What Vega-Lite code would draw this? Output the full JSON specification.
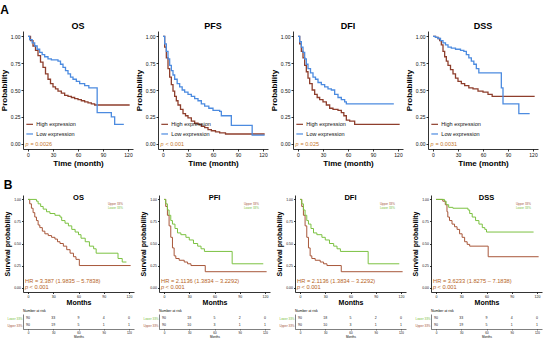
{
 "$schema": "https://vega.github.io/schema/vega-lite/v6.json",
 "padding": {"left": 0, "top": 4, "right": 2, "bottom": 2},
 "background": "white",
 "config": {
  "font": "Liberation Sans",
  "view": {"stroke": null},
  "axis": {"grid": false, "labelOverlap": false, "domainColor": "#000", "tickColor": "#000", "labelColor": "#111", "titleColor": "#000", "labelFontSize": 5, "titleFontSize": 8, "titleFontWeight": "bold", "tickSize": 2, "labelPadding": 1, "titlePadding": 2, "domainWidth": 0.8, "tickWidth": 0.8},
  "title": {"color": "#000"}
 },
 "datasets": {
  "km": [
   {"p":"AOS","g":"High","t":0,"s":1},{"p":"AOS","g":"High","t":3,"s":0.96},{"p":"AOS","g":"High","t":6,"s":0.91},{"p":"AOS","g":"High","t":9,"s":0.87},{"p":"AOS","g":"High","t":12,"s":0.82},{"p":"AOS","g":"High","t":15,"s":0.76},{"p":"AOS","g":"High","t":18,"s":0.71},{"p":"AOS","g":"High","t":21,"s":0.65},{"p":"AOS","g":"High","t":24,"s":0.6},{"p":"AOS","g":"High","t":27,"s":0.56},{"p":"AOS","g":"High","t":30,"s":0.53},{"p":"AOS","g":"High","t":33,"s":0.51},{"p":"AOS","g":"High","t":36,"s":0.49},{"p":"AOS","g":"High","t":40,"s":0.47},{"p":"AOS","g":"High","t":44,"s":0.45},{"p":"AOS","g":"High","t":48,"s":0.44},{"p":"AOS","g":"High","t":52,"s":0.43},{"p":"AOS","g":"High","t":56,"s":0.42},{"p":"AOS","g":"High","t":60,"s":0.41},{"p":"AOS","g":"High","t":64,"s":0.4},{"p":"AOS","g":"High","t":68,"s":0.39},{"p":"AOS","g":"High","t":72,"s":0.38},{"p":"AOS","g":"High","t":76,"s":0.37},{"p":"AOS","g":"High","t":80,"s":0.36},{"p":"AOS","g":"High","t":122,"s":0.36},
   {"p":"AOS","g":"Low","t":0,"s":1},{"p":"AOS","g":"Low","t":2,"s":0.97},{"p":"AOS","g":"Low","t":5,"s":0.94},{"p":"AOS","g":"Low","t":8,"s":0.91},{"p":"AOS","g":"Low","t":11,"s":0.88},{"p":"AOS","g":"Low","t":14,"s":0.85},{"p":"AOS","g":"Low","t":17,"s":0.83},{"p":"AOS","g":"Low","t":20,"s":0.81},{"p":"AOS","g":"Low","t":24,"s":0.79},{"p":"AOS","g":"Low","t":28,"s":0.78},{"p":"AOS","g":"Low","t":36,"s":0.77},{"p":"AOS","g":"Low","t":39,"s":0.74},{"p":"AOS","g":"Low","t":42,"s":0.71},{"p":"AOS","g":"Low","t":45,"s":0.68},{"p":"AOS","g":"Low","t":48,"s":0.65},{"p":"AOS","g":"Low","t":51,"s":0.62},{"p":"AOS","g":"Low","t":54,"s":0.6},{"p":"AOS","g":"Low","t":58,"s":0.58},{"p":"AOS","g":"Low","t":62,"s":0.56},{"p":"AOS","g":"Low","t":68,"s":0.54},{"p":"AOS","g":"Low","t":73,"s":0.52},{"p":"AOS","g":"Low","t":83,"s":0.29},{"p":"AOS","g":"Low","t":100,"s":0.25},{"p":"AOS","g":"Low","t":104,"s":0.18},{"p":"AOS","g":"Low","t":115,"s":0.18},
   {"p":"APFS","g":"High","t":0,"s":1},{"p":"APFS","g":"High","t":2,"s":0.9},{"p":"APFS","g":"High","t":4,"s":0.8},{"p":"APFS","g":"High","t":6,"s":0.7},{"p":"APFS","g":"High","t":8,"s":0.62},{"p":"APFS","g":"High","t":10,"s":0.55},{"p":"APFS","g":"High","t":12,"s":0.49},{"p":"APFS","g":"High","t":14,"s":0.44},{"p":"APFS","g":"High","t":16,"s":0.4},{"p":"APFS","g":"High","t":18,"s":0.36},{"p":"APFS","g":"High","t":21,"s":0.32},{"p":"APFS","g":"High","t":24,"s":0.28},{"p":"APFS","g":"High","t":27,"s":0.26},{"p":"APFS","g":"High","t":30,"s":0.24},{"p":"APFS","g":"High","t":34,"s":0.21},{"p":"APFS","g":"High","t":38,"s":0.19},{"p":"APFS","g":"High","t":42,"s":0.18},{"p":"APFS","g":"High","t":46,"s":0.16},{"p":"APFS","g":"High","t":50,"s":0.15},{"p":"APFS","g":"High","t":54,"s":0.13},{"p":"APFS","g":"High","t":58,"s":0.12},{"p":"APFS","g":"High","t":63,"s":0.11},{"p":"APFS","g":"High","t":68,"s":0.1},{"p":"APFS","g":"High","t":75,"s":0.09},{"p":"APFS","g":"High","t":122,"s":0.09},
   {"p":"APFS","g":"Low","t":0,"s":1},{"p":"APFS","g":"Low","t":2,"s":0.93},{"p":"APFS","g":"Low","t":4,"s":0.86},{"p":"APFS","g":"Low","t":6,"s":0.79},{"p":"APFS","g":"Low","t":8,"s":0.73},{"p":"APFS","g":"Low","t":10,"s":0.68},{"p":"APFS","g":"Low","t":12,"s":0.64},{"p":"APFS","g":"Low","t":14,"s":0.6},{"p":"APFS","g":"Low","t":17,"s":0.56},{"p":"APFS","g":"Low","t":20,"s":0.53},{"p":"APFS","g":"Low","t":23,"s":0.5},{"p":"APFS","g":"Low","t":26,"s":0.48},{"p":"APFS","g":"Low","t":30,"s":0.46},{"p":"APFS","g":"Low","t":34,"s":0.44},{"p":"APFS","g":"Low","t":38,"s":0.42},{"p":"APFS","g":"Low","t":42,"s":0.4},{"p":"APFS","g":"Low","t":46,"s":0.37},{"p":"APFS","g":"Low","t":50,"s":0.35},{"p":"APFS","g":"Low","t":55,"s":0.33},{"p":"APFS","g":"Low","t":60,"s":0.31},{"p":"APFS","g":"Low","t":68,"s":0.3},{"p":"APFS","g":"Low","t":70,"s":0.26},{"p":"APFS","g":"Low","t":82,"s":0.17},{"p":"APFS","g":"Low","t":107,"s":0.08},{"p":"APFS","g":"Low","t":122,"s":0.08},
   {"p":"ADFI","g":"High","t":0,"s":1},{"p":"ADFI","g":"High","t":2,"s":0.93},{"p":"ADFI","g":"High","t":4,"s":0.86},{"p":"ADFI","g":"High","t":6,"s":0.8},{"p":"ADFI","g":"High","t":8,"s":0.73},{"p":"ADFI","g":"High","t":10,"s":0.67},{"p":"ADFI","g":"High","t":12,"s":0.61},{"p":"ADFI","g":"High","t":14,"s":0.56},{"p":"ADFI","g":"High","t":17,"s":0.5},{"p":"ADFI","g":"High","t":20,"s":0.46},{"p":"ADFI","g":"High","t":23,"s":0.43},{"p":"ADFI","g":"High","t":26,"s":0.41},{"p":"ADFI","g":"High","t":30,"s":0.39},{"p":"ADFI","g":"High","t":34,"s":0.36},{"p":"ADFI","g":"High","t":38,"s":0.33},{"p":"ADFI","g":"High","t":42,"s":0.32},{"p":"ADFI","g":"High","t":48,"s":0.31},{"p":"ADFI","g":"High","t":52,"s":0.29},{"p":"ADFI","g":"High","t":55,"s":0.26},{"p":"ADFI","g":"High","t":58,"s":0.22},{"p":"ADFI","g":"High","t":62,"s":0.21},{"p":"ADFI","g":"High","t":68,"s":0.18},{"p":"ADFI","g":"High","t":122,"s":0.18},
   {"p":"ADFI","g":"Low","t":0,"s":1},{"p":"ADFI","g":"Low","t":2,"s":0.95},{"p":"ADFI","g":"Low","t":4,"s":0.9},{"p":"ADFI","g":"Low","t":6,"s":0.85},{"p":"ADFI","g":"Low","t":8,"s":0.79},{"p":"ADFI","g":"Low","t":10,"s":0.74},{"p":"ADFI","g":"Low","t":12,"s":0.7},{"p":"ADFI","g":"Low","t":15,"s":0.66},{"p":"ADFI","g":"Low","t":18,"s":0.62},{"p":"ADFI","g":"Low","t":21,"s":0.6},{"p":"ADFI","g":"Low","t":24,"s":0.57},{"p":"ADFI","g":"Low","t":28,"s":0.55},{"p":"ADFI","g":"Low","t":32,"s":0.53},{"p":"ADFI","g":"Low","t":36,"s":0.51},{"p":"ADFI","g":"Low","t":40,"s":0.5},{"p":"ADFI","g":"Low","t":44,"s":0.46},{"p":"ADFI","g":"Low","t":48,"s":0.43},{"p":"ADFI","g":"Low","t":52,"s":0.41},{"p":"ADFI","g":"Low","t":56,"s":0.39},{"p":"ADFI","g":"Low","t":58,"s":0.37},{"p":"ADFI","g":"Low","t":115,"s":0.37},
   {"p":"ADSS","g":"High","t":0,"s":1},{"p":"ADSS","g":"High","t":3,"s":0.99},{"p":"ADSS","g":"High","t":6,"s":0.98},{"p":"ADSS","g":"High","t":8,"s":0.96},{"p":"ADSS","g":"High","t":10,"s":0.92},{"p":"ADSS","g":"High","t":12,"s":0.86},{"p":"ADSS","g":"High","t":14,"s":0.81},{"p":"ADSS","g":"High","t":16,"s":0.77},{"p":"ADSS","g":"High","t":18,"s":0.73},{"p":"ADSS","g":"High","t":21,"s":0.69},{"p":"ADSS","g":"High","t":24,"s":0.65},{"p":"ADSS","g":"High","t":27,"s":0.61},{"p":"ADSS","g":"High","t":30,"s":0.58},{"p":"ADSS","g":"High","t":34,"s":0.56},{"p":"ADSS","g":"High","t":38,"s":0.54},{"p":"ADSS","g":"High","t":43,"s":0.52},{"p":"ADSS","g":"High","t":48,"s":0.51},{"p":"ADSS","g":"High","t":54,"s":0.49},{"p":"ADSS","g":"High","t":60,"s":0.48},{"p":"ADSS","g":"High","t":66,"s":0.46},{"p":"ADSS","g":"High","t":71,"s":0.44},{"p":"ADSS","g":"High","t":122,"s":0.44},
   {"p":"ADSS","g":"Low","t":0,"s":1},{"p":"ADSS","g":"Low","t":3,"s":0.99},{"p":"ADSS","g":"Low","t":6,"s":0.98},{"p":"ADSS","g":"Low","t":9,"s":0.96},{"p":"ADSS","g":"Low","t":12,"s":0.94},{"p":"ADSS","g":"Low","t":15,"s":0.92},{"p":"ADSS","g":"Low","t":18,"s":0.9},{"p":"ADSS","g":"Low","t":22,"s":0.89},{"p":"ADSS","g":"Low","t":27,"s":0.88},{"p":"ADSS","g":"Low","t":33,"s":0.87},{"p":"ADSS","g":"Low","t":37,"s":0.86},{"p":"ADSS","g":"Low","t":40,"s":0.83},{"p":"ADSS","g":"Low","t":43,"s":0.8},{"p":"ADSS","g":"Low","t":46,"s":0.77},{"p":"ADSS","g":"Low","t":49,"s":0.74},{"p":"ADSS","g":"Low","t":52,"s":0.7},{"p":"ADSS","g":"Low","t":55,"s":0.66},{"p":"ADSS","g":"Low","t":82,"s":0.52},{"p":"ADSS","g":"Low","t":84,"s":0.37},{"p":"ADSS","g":"Low","t":103,"s":0.28},{"p":"ADSS","g":"Low","t":116,"s":0.28},
   {"p":"BOS","g":"Upper","t":0,"s":1},{"p":"BOS","g":"Upper","t":2,"s":0.95},{"p":"BOS","g":"Upper","t":4,"s":0.9},{"p":"BOS","g":"Upper","t":6,"s":0.85},{"p":"BOS","g":"Upper","t":8,"s":0.8},{"p":"BOS","g":"Upper","t":10,"s":0.76},{"p":"BOS","g":"Upper","t":12,"s":0.71},{"p":"BOS","g":"Upper","t":14,"s":0.68},{"p":"BOS","g":"Upper","t":17,"s":0.64},{"p":"BOS","g":"Upper","t":20,"s":0.61},{"p":"BOS","g":"Upper","t":24,"s":0.59},{"p":"BOS","g":"Upper","t":28,"s":0.57},{"p":"BOS","g":"Upper","t":32,"s":0.55},{"p":"BOS","g":"Upper","t":35,"s":0.52},{"p":"BOS","g":"Upper","t":38,"s":0.5},{"p":"BOS","g":"Upper","t":42,"s":0.47},{"p":"BOS","g":"Upper","t":46,"s":0.43},{"p":"BOS","g":"Upper","t":50,"s":0.39},{"p":"BOS","g":"Upper","t":54,"s":0.35},{"p":"BOS","g":"Upper","t":57,"s":0.32},{"p":"BOS","g":"Upper","t":61,"s":0.25},{"p":"BOS","g":"Upper","t":122,"s":0.25},
   {"p":"BOS","g":"Lower","t":0,"s":1},{"p":"BOS","g":"Lower","t":10,"s":0.98},{"p":"BOS","g":"Lower","t":12,"s":0.95},{"p":"BOS","g":"Lower","t":15,"s":0.92},{"p":"BOS","g":"Lower","t":18,"s":0.89},{"p":"BOS","g":"Lower","t":22,"s":0.86},{"p":"BOS","g":"Lower","t":26,"s":0.84},{"p":"BOS","g":"Lower","t":32,"s":0.82},{"p":"BOS","g":"Lower","t":38,"s":0.8},{"p":"BOS","g":"Lower","t":40,"s":0.76},{"p":"BOS","g":"Lower","t":44,"s":0.73},{"p":"BOS","g":"Lower","t":48,"s":0.7},{"p":"BOS","g":"Lower","t":52,"s":0.66},{"p":"BOS","g":"Lower","t":56,"s":0.63},{"p":"BOS","g":"Lower","t":60,"s":0.6},{"p":"BOS","g":"Lower","t":63,"s":0.56},{"p":"BOS","g":"Lower","t":68,"s":0.52},{"p":"BOS","g":"Lower","t":73,"s":0.47},{"p":"BOS","g":"Lower","t":78,"s":0.44},{"p":"BOS","g":"Lower","t":81,"s":0.39},{"p":"BOS","g":"Lower","t":107,"s":0.33},{"p":"BOS","g":"Lower","t":112,"s":0.29},{"p":"BOS","g":"Lower","t":117,"s":0.29},
   {"p":"BPFI","g":"Upper","t":0,"s":1},{"p":"BPFI","g":"Upper","t":2,"s":0.92},{"p":"BPFI","g":"Upper","t":4,"s":0.82},{"p":"BPFI","g":"Upper","t":6,"s":0.7},{"p":"BPFI","g":"Upper","t":8,"s":0.57},{"p":"BPFI","g":"Upper","t":10,"s":0.45},{"p":"BPFI","g":"Upper","t":12,"s":0.36},{"p":"BPFI","g":"Upper","t":14,"s":0.33},{"p":"BPFI","g":"Upper","t":18,"s":0.31},{"p":"BPFI","g":"Upper","t":24,"s":0.29},{"p":"BPFI","g":"Upper","t":28,"s":0.27},{"p":"BPFI","g":"Upper","t":32,"s":0.25},{"p":"BPFI","g":"Upper","t":49,"s":0.18},{"p":"BPFI","g":"Upper","t":122,"s":0.18},
   {"p":"BPFI","g":"Lower","t":0,"s":1},{"p":"BPFI","g":"Lower","t":2,"s":0.95},{"p":"BPFI","g":"Lower","t":4,"s":0.88},{"p":"BPFI","g":"Lower","t":6,"s":0.82},{"p":"BPFI","g":"Lower","t":8,"s":0.76},{"p":"BPFI","g":"Lower","t":10,"s":0.72},{"p":"BPFI","g":"Lower","t":13,"s":0.67},{"p":"BPFI","g":"Lower","t":16,"s":0.62},{"p":"BPFI","g":"Lower","t":20,"s":0.6},{"p":"BPFI","g":"Lower","t":26,"s":0.57},{"p":"BPFI","g":"Lower","t":30,"s":0.54},{"p":"BPFI","g":"Lower","t":35,"s":0.5},{"p":"BPFI","g":"Lower","t":40,"s":0.47},{"p":"BPFI","g":"Lower","t":44,"s":0.44},{"p":"BPFI","g":"Lower","t":48,"s":0.41},{"p":"BPFI","g":"Lower","t":81,"s":0.27},{"p":"BPFI","g":"Lower","t":118,"s":0.27},
   {"p":"BDFI","g":"Upper","t":0,"s":1},{"p":"BDFI","g":"Upper","t":2,"s":0.92},{"p":"BDFI","g":"Upper","t":4,"s":0.82},{"p":"BDFI","g":"Upper","t":6,"s":0.7},{"p":"BDFI","g":"Upper","t":8,"s":0.57},{"p":"BDFI","g":"Upper","t":10,"s":0.45},{"p":"BDFI","g":"Upper","t":12,"s":0.36},{"p":"BDFI","g":"Upper","t":14,"s":0.33},{"p":"BDFI","g":"Upper","t":18,"s":0.31},{"p":"BDFI","g":"Upper","t":24,"s":0.29},{"p":"BDFI","g":"Upper","t":28,"s":0.27},{"p":"BDFI","g":"Upper","t":32,"s":0.25},{"p":"BDFI","g":"Upper","t":49,"s":0.18},{"p":"BDFI","g":"Upper","t":122,"s":0.18},
   {"p":"BDFI","g":"Lower","t":0,"s":1},{"p":"BDFI","g":"Lower","t":2,"s":0.95},{"p":"BDFI","g":"Lower","t":4,"s":0.88},{"p":"BDFI","g":"Lower","t":6,"s":0.82},{"p":"BDFI","g":"Lower","t":8,"s":0.76},{"p":"BDFI","g":"Lower","t":10,"s":0.72},{"p":"BDFI","g":"Lower","t":13,"s":0.67},{"p":"BDFI","g":"Lower","t":16,"s":0.62},{"p":"BDFI","g":"Lower","t":20,"s":0.6},{"p":"BDFI","g":"Lower","t":26,"s":0.57},{"p":"BDFI","g":"Lower","t":30,"s":0.54},{"p":"BDFI","g":"Lower","t":35,"s":0.5},{"p":"BDFI","g":"Lower","t":40,"s":0.47},{"p":"BDFI","g":"Lower","t":44,"s":0.44},{"p":"BDFI","g":"Lower","t":48,"s":0.41},{"p":"BDFI","g":"Lower","t":81,"s":0.27},{"p":"BDFI","g":"Lower","t":118,"s":0.27},
   {"p":"BDSS","g":"Upper","t":0,"s":1},{"p":"BDSS","g":"Upper","t":8,"s":0.98},{"p":"BDSS","g":"Upper","t":11,"s":0.94},{"p":"BDSS","g":"Upper","t":13,"s":0.86},{"p":"BDSS","g":"Upper","t":14,"s":0.8},{"p":"BDSS","g":"Upper","t":16,"s":0.76},{"p":"BDSS","g":"Upper","t":19,"s":0.72},{"p":"BDSS","g":"Upper","t":22,"s":0.69},{"p":"BDSS","g":"Upper","t":25,"s":0.66},{"p":"BDSS","g":"Upper","t":28,"s":0.61},{"p":"BDSS","g":"Upper","t":31,"s":0.57},{"p":"BDSS","g":"Upper","t":34,"s":0.52},{"p":"BDSS","g":"Upper","t":37,"s":0.49},{"p":"BDSS","g":"Upper","t":40,"s":0.47},{"p":"BDSS","g":"Upper","t":62,"s":0.35},{"p":"BDSS","g":"Upper","t":122,"s":0.35},
   {"p":"BDSS","g":"Lower","t":0,"s":1},{"p":"BDSS","g":"Lower","t":10,"s":0.98},{"p":"BDSS","g":"Lower","t":12,"s":0.94},{"p":"BDSS","g":"Lower","t":15,"s":0.91},{"p":"BDSS","g":"Lower","t":20,"s":0.9},{"p":"BDSS","g":"Lower","t":38,"s":0.88},{"p":"BDSS","g":"Lower","t":40,"s":0.84},{"p":"BDSS","g":"Lower","t":43,"s":0.8},{"p":"BDSS","g":"Lower","t":47,"s":0.76},{"p":"BDSS","g":"Lower","t":51,"s":0.72},{"p":"BDSS","g":"Lower","t":55,"s":0.68},{"p":"BDSS","g":"Lower","t":58,"s":0.66},{"p":"BDSS","g":"Lower","t":60,"s":0.63},{"p":"BDSS","g":"Lower","t":116,"s":0.63}
  ],
  "risk": [
   {"p":"BOS","g":"Lower 33%","t":0,"n":90},{"p":"BOS","g":"Lower 33%","t":30,"n":33},{"p":"BOS","g":"Lower 33%","t":60,"n":9},{"p":"BOS","g":"Lower 33%","t":90,"n":4},{"p":"BOS","g":"Lower 33%","t":120,"n":0},
   {"p":"BOS","g":"Upper 33%","t":0,"n":90},{"p":"BOS","g":"Upper 33%","t":30,"n":19},{"p":"BOS","g":"Upper 33%","t":60,"n":5},{"p":"BOS","g":"Upper 33%","t":90,"n":1},{"p":"BOS","g":"Upper 33%","t":120,"n":1},
   {"p":"BPFI","g":"Lower 33%","t":0,"n":90},{"p":"BPFI","g":"Lower 33%","t":30,"n":18},{"p":"BPFI","g":"Lower 33%","t":60,"n":5},{"p":"BPFI","g":"Lower 33%","t":90,"n":2},{"p":"BPFI","g":"Lower 33%","t":120,"n":0},
   {"p":"BPFI","g":"Upper 33%","t":0,"n":90},{"p":"BPFI","g":"Upper 33%","t":30,"n":10},{"p":"BPFI","g":"Upper 33%","t":60,"n":3},{"p":"BPFI","g":"Upper 33%","t":90,"n":1},{"p":"BPFI","g":"Upper 33%","t":120,"n":1},
   {"p":"BDFI","g":"Lower 33%","t":0,"n":90},{"p":"BDFI","g":"Lower 33%","t":30,"n":18},{"p":"BDFI","g":"Lower 33%","t":60,"n":5},{"p":"BDFI","g":"Lower 33%","t":90,"n":2},{"p":"BDFI","g":"Lower 33%","t":120,"n":0},
   {"p":"BDFI","g":"Upper 33%","t":0,"n":90},{"p":"BDFI","g":"Upper 33%","t":30,"n":10},{"p":"BDFI","g":"Upper 33%","t":60,"n":3},{"p":"BDFI","g":"Upper 33%","t":90,"n":1},{"p":"BDFI","g":"Upper 33%","t":120,"n":1},
   {"p":"BDSS","g":"Lower 33%","t":0,"n":90},{"p":"BDSS","g":"Lower 33%","t":30,"n":33},{"p":"BDSS","g":"Lower 33%","t":60,"n":9},{"p":"BDSS","g":"Lower 33%","t":90,"n":4},{"p":"BDSS","g":"Lower 33%","t":120,"n":0},
   {"p":"BDSS","g":"Upper 33%","t":0,"n":90},{"p":"BDSS","g":"Upper 33%","t":30,"n":19},{"p":"BDSS","g":"Upper 33%","t":60,"n":5},{"p":"BDSS","g":"Upper 33%","t":90,"n":1},{"p":"BDSS","g":"Upper 33%","t":120,"n":1}
  ]
 },
 "spacing": 11,
 "vconcat": [
  {
   "title": {"text": "A", "anchor": "start", "fontSize": 12, "fontWeight": "bold", "offset": 5},
   "bounds": "flush",
   "spacing": 25,
   "hconcat": [
    {"width": 110, "height": 118, "title": {"text": "OS", "fontSize": 9, "fontWeight": "bold", "offset": 0},
     "layer": [
      {"data": {"name": "km"}, "transform": [{"filter": "datum.p=='AOS'"}], "mark": {"type": "line", "interpolate": "step-after", "strokeWidth": 1.3},
       "encoding": {"x": {"field": "t", "type": "quantitative", "scale": {"domain": [-6, 126], "nice": false, "zero": false}, "axis": {"values": [0, 30, 60, 90, 120], "tickCount": 10, "title": "Time (month)"}},
        "y": {"field": "s", "type": "quantitative", "scale": {"domain": [-0.05, 1.05], "nice": false, "zero": false}, "axis": {"values": [0, 0.25, 0.5, 0.75, 1], "tickCount": 10, "format": ".2f", "title": "Probability"}},
        "color": {"field": "g", "type": "nominal", "scale": {"domain": ["High", "Low", "Upper", "Lower"], "range": ["#8e3e2c", "#4c8be0", "#a8573a", "#7cc242"]}, "legend": null}}},
      {"data": {"values": [{}]}, "mark": {"type": "rule", "color": "#8e3e2c", "strokeWidth": 1.2}, "encoding": {"x": {"datum": -2}, "x2": {"datum": 6}, "y": {"datum": 0.18}}},
      {"data": {"values": [{}]}, "mark": {"type": "rule", "color": "#4c8be0", "strokeWidth": 1.2}, "encoding": {"x": {"datum": -2}, "x2": {"datum": 6}, "y": {"datum": 0.09}}},
      {"data": {"values": [{}]}, "mark": {"type": "text", "align": "left", "fontSize": 5.5, "color": "#111"}, "encoding": {"x": {"datum": 10}, "y": {"datum": 0.18}, "text": {"value": "High expression"}}},
      {"data": {"values": [{}]}, "mark": {"type": "text", "align": "left", "fontSize": 5.5, "color": "#111"}, "encoding": {"x": {"datum": 10}, "y": {"datum": 0.09}, "text": {"value": "Low expression"}}},
      {"data": {"values": [{}]}, "mark": {"type": "text", "align": "left", "fontSize": 5.5, "fontStyle": "italic", "color": "#c4762a"}, "encoding": {"x": {"datum": -3}, "y": {"datum": 0.0}, "text": {"value": "p"}}},
      {"data": {"values": [{}]}, "mark": {"type": "text", "align": "left", "fontSize": 5.5, "color": "#c4762a"}, "encoding": {"x": {"datum": 3}, "y": {"datum": 0.0}, "text": {"value": "= 0.0026"}}}
     ]},
    {"width": 110, "height": 118, "title": {"text": "PFS", "fontSize": 9, "fontWeight": "bold", "offset": 0},
     "layer": [
      {"data": {"name": "km"}, "transform": [{"filter": "datum.p=='APFS'"}], "mark": {"type": "line", "interpolate": "step-after", "strokeWidth": 1.3},
       "encoding": {"x": {"field": "t", "type": "quantitative", "scale": {"domain": [-6, 126], "nice": false, "zero": false}, "axis": {"values": [0, 30, 60, 90, 120], "tickCount": 10, "title": "Time (month)"}},
        "y": {"field": "s", "type": "quantitative", "scale": {"domain": [-0.05, 1.05], "nice": false, "zero": false}, "axis": {"values": [0, 0.25, 0.5, 0.75, 1], "tickCount": 10, "format": ".2f", "title": "Probability"}},
        "color": {"field": "g", "type": "nominal", "scale": {"domain": ["High", "Low", "Upper", "Lower"], "range": ["#8e3e2c", "#4c8be0", "#a8573a", "#7cc242"]}, "legend": null}}},
      {"data": {"values": [{}]}, "mark": {"type": "rule", "color": "#8e3e2c", "strokeWidth": 1.2}, "encoding": {"x": {"datum": -2}, "x2": {"datum": 6}, "y": {"datum": 0.18}}},
      {"data": {"values": [{}]}, "mark": {"type": "rule", "color": "#4c8be0", "strokeWidth": 1.2}, "encoding": {"x": {"datum": -2}, "x2": {"datum": 6}, "y": {"datum": 0.09}}},
      {"data": {"values": [{}]}, "mark": {"type": "text", "align": "left", "fontSize": 5.5, "color": "#111"}, "encoding": {"x": {"datum": 10}, "y": {"datum": 0.18}, "text": {"value": "High expression"}}},
      {"data": {"values": [{}]}, "mark": {"type": "text", "align": "left", "fontSize": 5.5, "color": "#111"}, "encoding": {"x": {"datum": 10}, "y": {"datum": 0.09}, "text": {"value": "Low expression"}}},
      {"data": {"values": [{}]}, "mark": {"type": "text", "align": "left", "fontSize": 5.5, "fontStyle": "italic", "color": "#c4762a"}, "encoding": {"x": {"datum": -3}, "y": {"datum": 0.0}, "text": {"value": "p"}}},
      {"data": {"values": [{}]}, "mark": {"type": "text", "align": "left", "fontSize": 5.5, "color": "#c4762a"}, "encoding": {"x": {"datum": 3}, "y": {"datum": 0.0}, "text": {"value": "< 0.001"}}}
     ]},
    {"width": 110, "height": 118, "title": {"text": "DFI", "fontSize": 9, "fontWeight": "bold", "offset": 0},
     "layer": [
      {"data": {"name": "km"}, "transform": [{"filter": "datum.p=='ADFI'"}], "mark": {"type": "line", "interpolate": "step-after", "strokeWidth": 1.3},
       "encoding": {"x": {"field": "t", "type": "quantitative", "scale": {"domain": [-6, 126], "nice": false, "zero": false}, "axis": {"values": [0, 30, 60, 90, 120], "tickCount": 10, "title": "Time (month)"}},
        "y": {"field": "s", "type": "quantitative", "scale": {"domain": [-0.05, 1.05], "nice": false, "zero": false}, "axis": {"values": [0, 0.25, 0.5, 0.75, 1], "tickCount": 10, "format": ".2f", "title": "Probability"}},
        "color": {"field": "g", "type": "nominal", "scale": {"domain": ["High", "Low", "Upper", "Lower"], "range": ["#8e3e2c", "#4c8be0", "#a8573a", "#7cc242"]}, "legend": null}}},
      {"data": {"values": [{}]}, "mark": {"type": "rule", "color": "#8e3e2c", "strokeWidth": 1.2}, "encoding": {"x": {"datum": -2}, "x2": {"datum": 6}, "y": {"datum": 0.18}}},
      {"data": {"values": [{}]}, "mark": {"type": "rule", "color": "#4c8be0", "strokeWidth": 1.2}, "encoding": {"x": {"datum": -2}, "x2": {"datum": 6}, "y": {"datum": 0.09}}},
      {"data": {"values": [{}]}, "mark": {"type": "text", "align": "left", "fontSize": 5.5, "color": "#111"}, "encoding": {"x": {"datum": 10}, "y": {"datum": 0.18}, "text": {"value": "High expression"}}},
      {"data": {"values": [{}]}, "mark": {"type": "text", "align": "left", "fontSize": 5.5, "color": "#111"}, "encoding": {"x": {"datum": 10}, "y": {"datum": 0.09}, "text": {"value": "Low expression"}}},
      {"data": {"values": [{}]}, "mark": {"type": "text", "align": "left", "fontSize": 5.5, "fontStyle": "italic", "color": "#c4762a"}, "encoding": {"x": {"datum": -3}, "y": {"datum": 0.0}, "text": {"value": "p"}}},
      {"data": {"values": [{}]}, "mark": {"type": "text", "align": "left", "fontSize": 5.5, "color": "#c4762a"}, "encoding": {"x": {"datum": 3}, "y": {"datum": 0.0}, "text": {"value": "= 0.025"}}}
     ]},
    {"width": 110, "height": 118, "title": {"text": "DSS", "fontSize": 9, "fontWeight": "bold", "offset": 0},
     "layer": [
      {"data": {"name": "km"}, "transform": [{"filter": "datum.p=='ADSS'"}], "mark": {"type": "line", "interpolate": "step-after", "strokeWidth": 1.3},
       "encoding": {"x": {"field": "t", "type": "quantitative", "scale": {"domain": [-6, 126], "nice": false, "zero": false}, "axis": {"values": [0, 30, 60, 90, 120], "tickCount": 10, "title": "Time (month)"}},
        "y": {"field": "s", "type": "quantitative", "scale": {"domain": [-0.05, 1.05], "nice": false, "zero": false}, "axis": {"values": [0, 0.25, 0.5, 0.75, 1], "tickCount": 10, "format": ".2f", "title": "Probability"}},
        "color": {"field": "g", "type": "nominal", "scale": {"domain": ["High", "Low", "Upper", "Lower"], "range": ["#8e3e2c", "#4c8be0", "#a8573a", "#7cc242"]}, "legend": null}}},
      {"data": {"values": [{}]}, "mark": {"type": "rule", "color": "#8e3e2c", "strokeWidth": 1.2}, "encoding": {"x": {"datum": -2}, "x2": {"datum": 6}, "y": {"datum": 0.18}}},
      {"data": {"values": [{}]}, "mark": {"type": "rule", "color": "#4c8be0", "strokeWidth": 1.2}, "encoding": {"x": {"datum": -2}, "x2": {"datum": 6}, "y": {"datum": 0.09}}},
      {"data": {"values": [{}]}, "mark": {"type": "text", "align": "left", "fontSize": 5.5, "color": "#111"}, "encoding": {"x": {"datum": 10}, "y": {"datum": 0.18}, "text": {"value": "High expression"}}},
      {"data": {"values": [{}]}, "mark": {"type": "text", "align": "left", "fontSize": 5.5, "color": "#111"}, "encoding": {"x": {"datum": 10}, "y": {"datum": 0.09}, "text": {"value": "Low expression"}}},
      {"data": {"values": [{}]}, "mark": {"type": "text", "align": "left", "fontSize": 5.5, "fontStyle": "italic", "color": "#c4762a"}, "encoding": {"x": {"datum": -3}, "y": {"datum": 0.0}, "text": {"value": "p"}}},
      {"data": {"values": [{}]}, "mark": {"type": "text", "align": "left", "fontSize": 5.5, "color": "#c4762a"}, "encoding": {"x": {"datum": 3}, "y": {"datum": 0.0}, "text": {"value": "= 0.0031"}}}
     ]}
   ]
  },
  {
   "title": {"text": "B", "anchor": "start", "fontSize": 12, "fontWeight": "bold", "offset": 2},
   "spacing": 3,
   "vconcat": [
    {
     "bounds": "flush",
     "spacing": 25,
     "hconcat": [
      {"width": 111, "height": 97, "title": {"text": "OS", "fontSize": 7.5, "fontWeight": "bold", "offset": -6},
       "layer": [
        {"data": {"name": "km"}, "transform": [{"filter": "datum.p=='BOS'"}], "mark": {"type": "line", "interpolate": "step-after", "strokeWidth": 1},
         "encoding": {"x": {"field": "t", "type": "quantitative", "scale": {"domain": [-6, 126], "nice": false, "zero": false}, "axis": {"values": [0, 30, 60, 90, 120], "tickCount": 10, "title": "Months", "labelFontSize": 3.5, "titleFontSize": 7, "tickSize": 1.5, "titlePadding": 0}},
          "y": {"field": "s", "type": "quantitative", "scale": {"domain": [-0.05, 1.05], "nice": false, "zero": false}, "axis": {"values": [0, 0.25, 0.5, 0.75, 1], "tickCount": 10, "format": ".2f", "title": "Survival probability", "labelFontSize": 3.5, "titleFontSize": 7, "tickSize": 1.5, "titlePadding": 3}},
          "color": {"field": "g", "type": "nominal", "scale": {"domain": ["High", "Low", "Upper", "Lower"], "range": ["#8e3e2c", "#4c8be0", "#a8573a", "#7cc242"]}, "legend": null}}},
        {"data": {"values": [{}]}, "mark": {"type": "text", "align": "left", "fontSize": 3, "color": "#a8573a"}, "encoding": {"x": {"datum": 95}, "y": {"datum": 0.955}, "text": {"value": "Upper 33%"}}},
        {"data": {"values": [{}]}, "mark": {"type": "text", "align": "left", "fontSize": 3, "color": "#7cc242"}, "encoding": {"x": {"datum": 95}, "y": {"datum": 0.91}, "text": {"value": "Lower 33%"}}},
        {"data": {"values": [{}]}, "mark": {"type": "text", "align": "left", "fontSize": 5.7, "color": "#b5621b"}, "encoding": {"x": {"datum": -3.5}, "y": {"datum": 0.08}, "text": {"value": "HR = 3.387 (1.9835 – 5.7838)"}}},
        {"data": {"values": [{}]}, "mark": {"type": "text", "align": "left", "fontSize": 5.7, "fontStyle": "italic", "color": "#b5621b"}, "encoding": {"x": {"datum": -3.5}, "y": {"datum": 0.01}, "text": {"value": "p"}}},
        {"data": {"values": [{}]}, "mark": {"type": "text", "align": "left", "fontSize": 5.7, "color": "#b5621b"}, "encoding": {"x": {"datum": 1.8}, "y": {"datum": 0.01}, "text": {"value": "< 0.001"}}}
       ]},
      {"width": 111, "height": 97, "title": {"text": "PFI", "fontSize": 7.5, "fontWeight": "bold", "offset": -6},
       "layer": [
        {"data": {"name": "km"}, "transform": [{"filter": "datum.p=='BPFI'"}], "mark": {"type": "line", "interpolate": "step-after", "strokeWidth": 1},
         "encoding": {"x": {"field": "t", "type": "quantitative", "scale": {"domain": [-6, 126], "nice": false, "zero": false}, "axis": {"values": [0, 30, 60, 90, 120], "tickCount": 10, "title": "Months", "labelFontSize": 3.5, "titleFontSize": 7, "tickSize": 1.5, "titlePadding": 0}},
          "y": {"field": "s", "type": "quantitative", "scale": {"domain": [-0.05, 1.05], "nice": false, "zero": false}, "axis": {"values": [0, 0.25, 0.5, 0.75, 1], "tickCount": 10, "format": ".2f", "title": "Survival probability", "labelFontSize": 3.5, "titleFontSize": 7, "tickSize": 1.5, "titlePadding": 3}},
          "color": {"field": "g", "type": "nominal", "scale": {"domain": ["High", "Low", "Upper", "Lower"], "range": ["#8e3e2c", "#4c8be0", "#a8573a", "#7cc242"]}, "legend": null}}},
        {"data": {"values": [{}]}, "mark": {"type": "text", "align": "left", "fontSize": 3, "color": "#a8573a"}, "encoding": {"x": {"datum": 95}, "y": {"datum": 0.955}, "text": {"value": "Upper 33%"}}},
        {"data": {"values": [{}]}, "mark": {"type": "text", "align": "left", "fontSize": 3, "color": "#7cc242"}, "encoding": {"x": {"datum": 95}, "y": {"datum": 0.91}, "text": {"value": "Lower 33%"}}},
        {"data": {"values": [{}]}, "mark": {"type": "text", "align": "left", "fontSize": 5.7, "color": "#b5621b"}, "encoding": {"x": {"datum": -3.5}, "y": {"datum": 0.08}, "text": {"value": "HR = 2.1136 (1.3834 – 3.2292)"}}},
        {"data": {"values": [{}]}, "mark": {"type": "text", "align": "left", "fontSize": 5.7, "fontStyle": "italic", "color": "#b5621b"}, "encoding": {"x": {"datum": -3.5}, "y": {"datum": 0.01}, "text": {"value": "p"}}},
        {"data": {"values": [{}]}, "mark": {"type": "text", "align": "left", "fontSize": 5.7, "color": "#b5621b"}, "encoding": {"x": {"datum": 1.8}, "y": {"datum": 0.01}, "text": {"value": "< 0.001"}}}
       ]},
      {"width": 111, "height": 97, "title": {"text": "DFI", "fontSize": 7.5, "fontWeight": "bold", "offset": -6},
       "layer": [
        {"data": {"name": "km"}, "transform": [{"filter": "datum.p=='BDFI'"}], "mark": {"type": "line", "interpolate": "step-after", "strokeWidth": 1},
         "encoding": {"x": {"field": "t", "type": "quantitative", "scale": {"domain": [-6, 126], "nice": false, "zero": false}, "axis": {"values": [0, 30, 60, 90, 120], "tickCount": 10, "title": "Months", "labelFontSize": 3.5, "titleFontSize": 7, "tickSize": 1.5, "titlePadding": 0}},
          "y": {"field": "s", "type": "quantitative", "scale": {"domain": [-0.05, 1.05], "nice": false, "zero": false}, "axis": {"values": [0, 0.25, 0.5, 0.75, 1], "tickCount": 10, "format": ".2f", "title": "Survival probability", "labelFontSize": 3.5, "titleFontSize": 7, "tickSize": 1.5, "titlePadding": 3}},
          "color": {"field": "g", "type": "nominal", "scale": {"domain": ["High", "Low", "Upper", "Lower"], "range": ["#8e3e2c", "#4c8be0", "#a8573a", "#7cc242"]}, "legend": null}}},
        {"data": {"values": [{}]}, "mark": {"type": "text", "align": "left", "fontSize": 3, "color": "#a8573a"}, "encoding": {"x": {"datum": 95}, "y": {"datum": 0.955}, "text": {"value": "Upper 33%"}}},
        {"data": {"values": [{}]}, "mark": {"type": "text", "align": "left", "fontSize": 3, "color": "#7cc242"}, "encoding": {"x": {"datum": 95}, "y": {"datum": 0.91}, "text": {"value": "Lower 33%"}}},
        {"data": {"values": [{}]}, "mark": {"type": "text", "align": "left", "fontSize": 5.7, "color": "#b5621b"}, "encoding": {"x": {"datum": -3.5}, "y": {"datum": 0.08}, "text": {"value": "HR = 2.1136 (1.3834 – 3.2292)"}}},
        {"data": {"values": [{}]}, "mark": {"type": "text", "align": "left", "fontSize": 5.7, "fontStyle": "italic", "color": "#b5621b"}, "encoding": {"x": {"datum": -3.5}, "y": {"datum": 0.01}, "text": {"value": "p"}}},
        {"data": {"values": [{}]}, "mark": {"type": "text", "align": "left", "fontSize": 5.7, "color": "#b5621b"}, "encoding": {"x": {"datum": 1.8}, "y": {"datum": 0.01}, "text": {"value": "< 0.001"}}}
       ]},
      {"width": 111, "height": 97, "title": {"text": "DSS", "fontSize": 7.5, "fontWeight": "bold", "offset": -6},
       "layer": [
        {"data": {"name": "km"}, "transform": [{"filter": "datum.p=='BDSS'"}], "mark": {"type": "line", "interpolate": "step-after", "strokeWidth": 1},
         "encoding": {"x": {"field": "t", "type": "quantitative", "scale": {"domain": [-6, 126], "nice": false, "zero": false}, "axis": {"values": [0, 30, 60, 90, 120], "tickCount": 10, "title": "Months", "labelFontSize": 3.5, "titleFontSize": 7, "tickSize": 1.5, "titlePadding": 0}},
          "y": {"field": "s", "type": "quantitative", "scale": {"domain": [-0.05, 1.05], "nice": false, "zero": false}, "axis": {"values": [0, 0.25, 0.5, 0.75, 1], "tickCount": 10, "format": ".2f", "title": "Survival probability", "labelFontSize": 3.5, "titleFontSize": 7, "tickSize": 1.5, "titlePadding": 3}},
          "color": {"field": "g", "type": "nominal", "scale": {"domain": ["High", "Low", "Upper", "Lower"], "range": ["#8e3e2c", "#4c8be0", "#a8573a", "#7cc242"]}, "legend": null}}},
        {"data": {"values": [{}]}, "mark": {"type": "text", "align": "left", "fontSize": 3, "color": "#a8573a"}, "encoding": {"x": {"datum": 95}, "y": {"datum": 0.955}, "text": {"value": "Upper 33%"}}},
        {"data": {"values": [{}]}, "mark": {"type": "text", "align": "left", "fontSize": 3, "color": "#7cc242"}, "encoding": {"x": {"datum": 95}, "y": {"datum": 0.91}, "text": {"value": "Lower 33%"}}},
        {"data": {"values": [{}]}, "mark": {"type": "text", "align": "left", "fontSize": 5.7, "color": "#b5621b"}, "encoding": {"x": {"datum": -3.5}, "y": {"datum": 0.08}, "text": {"value": "HR = 3.6233 (1.8275 – 7.1838)"}}},
        {"data": {"values": [{}]}, "mark": {"type": "text", "align": "left", "fontSize": 5.7, "fontStyle": "italic", "color": "#b5621b"}, "encoding": {"x": {"datum": -3.5}, "y": {"datum": 0.01}, "text": {"value": "p"}}},
        {"data": {"values": [{}]}, "mark": {"type": "text", "align": "left", "fontSize": 5.7, "color": "#b5621b"}, "encoding": {"x": {"datum": 1.8}, "y": {"datum": 0.01}, "text": {"value": "< 0.001"}}}
       ]}
     ]
    },
    {
     "bounds": "flush",
     "spacing": 25,
     "hconcat": [
      {"width": 111, "height": 15, "title": {"text": "Number at risk", "anchor": "start", "frame": "group", "fontSize": 3.5, "fontWeight": "normal", "offset": 2},
       "data": {"name": "risk"}, "transform": [{"filter": "datum.p=='BOS'"}],
       "mark": {"type": "text", "fontSize": 3.5, "color": "#222"},
       "encoding": {"x": {"field": "t", "type": "quantitative", "scale": {"domain": [-6, 126], "nice": false, "zero": false}, "axis": {"values": [0, 30, 60, 90, 120], "tickCount": 10, "title": "Months", "labelFontSize": 3, "titleFontSize": 3, "titleFontWeight": "normal", "tickSize": 1, "titlePadding": 1, "domainWidth": 0.5, "tickWidth": 0.5}},
        "y": {"field": "g", "type": "nominal", "sort": ["Lower 33%", "Upper 33%"], "axis": {"title": null, "ticks": false, "labelFontSize": 3, "domainWidth": 0.5, "labelColor": {"condition": {"test": "datum.value=='Lower 33%'", "value": "#7cc242"}, "value": "#a8573a"}}},
        "text": {"field": "n", "type": "quantitative"}}},
      {"width": 111, "height": 15, "title": {"text": "Number at risk", "anchor": "start", "frame": "group", "fontSize": 3.5, "fontWeight": "normal", "offset": 2},
       "data": {"name": "risk"}, "transform": [{"filter": "datum.p=='BPFI'"}],
       "mark": {"type": "text", "fontSize": 3.5, "color": "#222"},
       "encoding": {"x": {"field": "t", "type": "quantitative", "scale": {"domain": [-6, 126], "nice": false, "zero": false}, "axis": {"values": [0, 30, 60, 90, 120], "tickCount": 10, "title": "Months", "labelFontSize": 3, "titleFontSize": 3, "titleFontWeight": "normal", "tickSize": 1, "titlePadding": 1, "domainWidth": 0.5, "tickWidth": 0.5}},
        "y": {"field": "g", "type": "nominal", "sort": ["Lower 33%", "Upper 33%"], "axis": {"title": null, "ticks": false, "labelFontSize": 3, "domainWidth": 0.5, "labelColor": {"condition": {"test": "datum.value=='Lower 33%'", "value": "#7cc242"}, "value": "#a8573a"}}},
        "text": {"field": "n", "type": "quantitative"}}},
      {"width": 111, "height": 15, "title": {"text": "Number at risk", "anchor": "start", "frame": "group", "fontSize": 3.5, "fontWeight": "normal", "offset": 2},
       "data": {"name": "risk"}, "transform": [{"filter": "datum.p=='BDFI'"}],
       "mark": {"type": "text", "fontSize": 3.5, "color": "#222"},
       "encoding": {"x": {"field": "t", "type": "quantitative", "scale": {"domain": [-6, 126], "nice": false, "zero": false}, "axis": {"values": [0, 30, 60, 90, 120], "tickCount": 10, "title": "Months", "labelFontSize": 3, "titleFontSize": 3, "titleFontWeight": "normal", "tickSize": 1, "titlePadding": 1, "domainWidth": 0.5, "tickWidth": 0.5}},
        "y": {"field": "g", "type": "nominal", "sort": ["Lower 33%", "Upper 33%"], "axis": {"title": null, "ticks": false, "labelFontSize": 3, "domainWidth": 0.5, "labelColor": {"condition": {"test": "datum.value=='Lower 33%'", "value": "#7cc242"}, "value": "#a8573a"}}},
        "text": {"field": "n", "type": "quantitative"}}},
      {"width": 111, "height": 15, "title": {"text": "Number at risk", "anchor": "start", "frame": "group", "fontSize": 3.5, "fontWeight": "normal", "offset": 2},
       "data": {"name": "risk"}, "transform": [{"filter": "datum.p=='BDSS'"}],
       "mark": {"type": "text", "fontSize": 3.5, "color": "#222"},
       "encoding": {"x": {"field": "t", "type": "quantitative", "scale": {"domain": [-6, 126], "nice": false, "zero": false}, "axis": {"values": [0, 30, 60, 90, 120], "tickCount": 10, "title": "Months", "labelFontSize": 3, "titleFontSize": 3, "titleFontWeight": "normal", "tickSize": 1, "titlePadding": 1, "domainWidth": 0.5, "tickWidth": 0.5}},
        "y": {"field": "g", "type": "nominal", "sort": ["Lower 33%", "Upper 33%"], "axis": {"title": null, "ticks": false, "labelFontSize": 3, "domainWidth": 0.5, "labelColor": {"condition": {"test": "datum.value=='Lower 33%'", "value": "#7cc242"}, "value": "#a8573a"}}},
        "text": {"field": "n", "type": "quantitative"}}}
     ]
    }
   ]
  }
 ]
}
